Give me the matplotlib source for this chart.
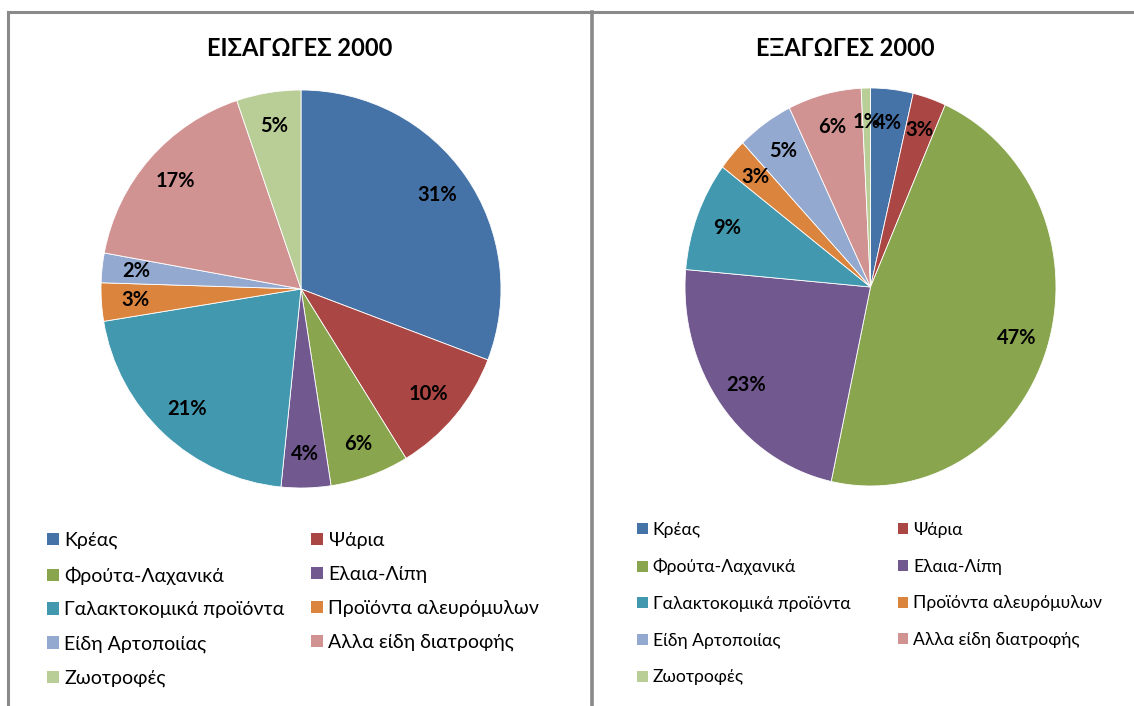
import matplotlib
matplotlib.use("Agg")
import matplotlib.pyplot as plt
from matplotlib.patches import Patch
from matplotlib.lines import Line2D

plt.rcParams['font.family'] = ['Lato', 'Open Sans', 'DejaVu Sans']

categories = ["Κρέας", "Ψάρια", "Φρούτα-Λαχανικά", "Ελαια-Λίπη",
              "Γαλακτοκομικά προϊόντα", "Προϊόντα αλευρόμυλων",
              "Είδη Αρτοποιίας", "Αλλα είδη διατροφής", "Ζωοτροφές"]
imports_2000 = [30.8, 10.4, 6.4, 4.0, 20.8, 3.1, 2.4, 16.9, 5.2]
exports_2000 = [3.7, 2.9, 46.8, 23.0, 8.9, 2.6, 4.9, 6.4, 0.8]
titles = ["ΕΙΣΑΓΩΓΕΣ 2000", "ΕΞΑΓΩΓΕΣ 2000"]

colors = ["#4572A7", "#AA4643", "#89A54E", "#71588F", "#4198AF",
          "#DB843D", "#93A9CF", "#D19392", "#B9CD96"]

W, H = 1134, 706
fig = plt.figure(figsize=(W / 100, H / 100), dpi=100)


def fx(px):
    return px / W


def fy(py):
    return 1 - py / H


# panel borders
border = "#8a8a8a"
fig.add_artist(Line2D([fx(8), fx(1134)], [fy(12), fy(12)], color=border, lw=2.2, transform=fig.transFigure))
fig.add_artist(Line2D([fx(8), fx(8)], [fy(12), fy(706)], color=border, lw=2.2, transform=fig.transFigure))
fig.add_artist(Line2D([fx(592), fx(592)], [fy(12), fy(706)], color=border, lw=2.6, transform=fig.transFigure))

panels = [
    dict(data=imports_2000, box=(101, 90, 501, 488), title_x=300, leg=(47, 532), leg_fs=14, leg_ls=0.87, colsp=1.35),
    dict(data=exports_2000, box=(685, 88, 1056, 486), title_x=845, leg=(637, 522), leg_fs=12.6, leg_ls=1.18, colsp=2.7),
]

for p, title in zip(panels, titles):
    x0, y0, x1, y1 = p["box"]
    ax = fig.add_axes([fx(x0), fy(y1), (x1 - x0) / W, (y1 - y0) / H])
    wedges, texts, autotexts = ax.pie(
        p["data"], colors=colors, startangle=90, counterclock=False,
        autopct=lambda v: f"{v:.0f}%", pctdistance=0.83,
        wedgeprops=dict(edgecolor="white", linewidth=0.6, clip_on=False),
        textprops=dict(fontsize=14.5, fontweight="bold", color="black"))
    ax.set_aspect("auto")
    ax.set_xlim(-1, 1)
    ax.set_ylim(-1, 1)
    ax.axis("off")

    fig.text(fx(p["title_x"]), fy(48), title, ha="center", va="center",
             fontsize=17, fontweight="bold")

    handles = [Patch(facecolor=c, edgecolor="none") for c in colors]
    order = [0, 2, 4, 6, 8, 1, 3, 5, 7]
    lx, ly = p["leg"]
    fig.legend([handles[i] for i in order], [categories[i] for i in order],
               ncol=2, loc="upper left", bbox_to_anchor=(fx(lx), fy(ly)),
               frameon=False, fontsize=p["leg_fs"], handlelength=0.6,
               handleheight=0.6, handletextpad=0.3, borderpad=0,
               borderaxespad=0, labelspacing=p["leg_ls"],
               columnspacing=p["colsp"])

fig.savefig("out.png", dpi=100, facecolor="white")
